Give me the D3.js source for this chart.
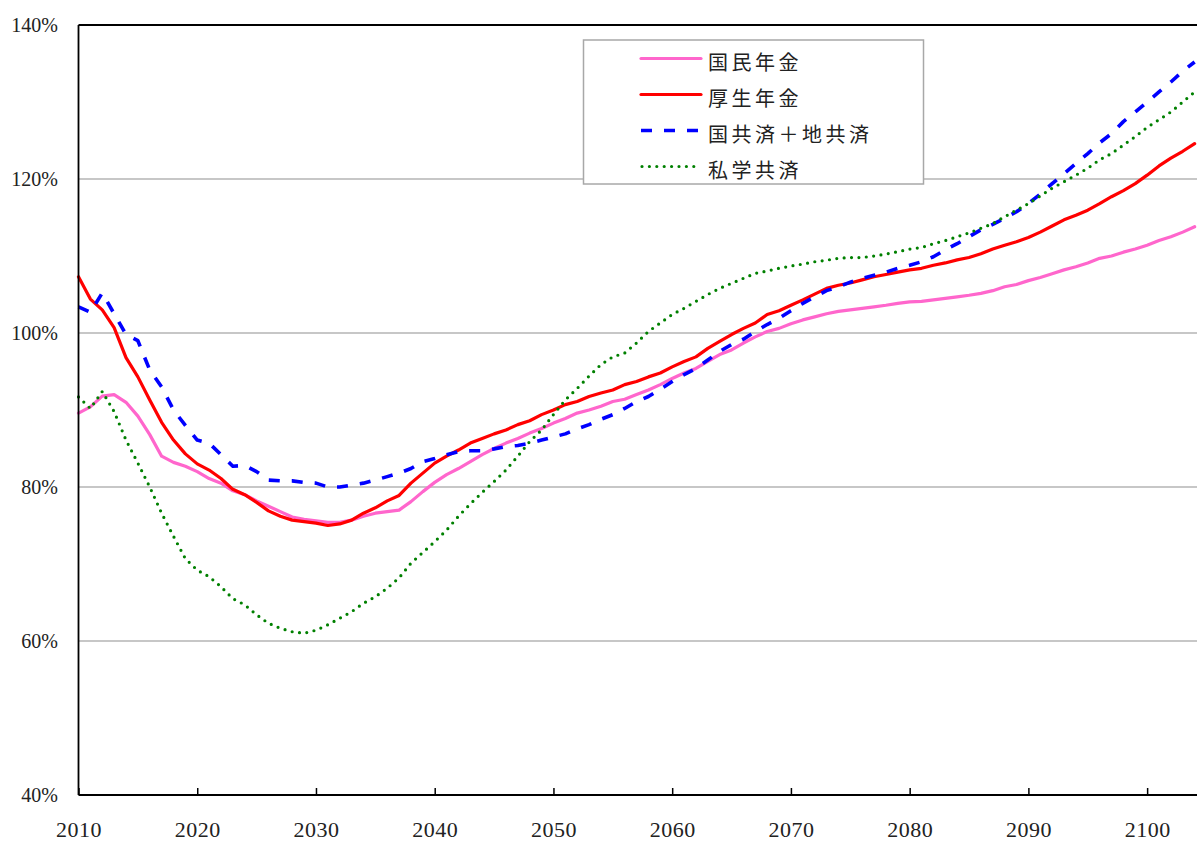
<!DOCTYPE html>
<html>
<head>
<meta charset="utf-8">
<script src="https://cdn.jsdelivr.net/npm/d3@7"></script>
<style>
  html, body { margin: 0; padding: 0; background: #fff; }
  svg { display: block; }
</style>
</head>
<body>
<div class="chart"></div>
<script>
// years on the x axis
const years = d3.range(2010, 2105);

// 国民年金
const kokumin = [
  89.6, 90.4, 91.8, 92.0, 91.0, 89.2, 86.8, 84.0, 83.2, 82.7,
  82.0, 81.1, 80.5, 79.5, 79.0, 78.2, 77.5, 76.8, 76.1, 75.8,
  75.6, 75.4, 75.4, 75.7, 76.2, 76.6, 76.8, 77.0, 78.1, 79.4,
  80.6, 81.6, 82.4, 83.3, 84.2, 85.0, 85.7, 86.3, 87.0, 87.6,
  88.3, 88.9, 89.6, 90.0, 90.5, 91.1, 91.4, 92.0, 92.6, 93.3,
  94.1, 94.8, 95.4, 96.3, 97.2, 97.8, 98.7, 99.5, 100.2, 100.6,
  101.2, 101.7, 102.1, 102.5, 102.8, 103.0, 103.2, 103.4, 103.6, 103.85,
  104.05, 104.1, 104.3, 104.5, 104.7, 104.9, 105.15, 105.5, 106.0, 106.3,
  106.8, 107.2, 107.7, 108.2, 108.6, 109.1, 109.7, 110.0, 110.5, 110.9,
  111.4, 112.0, 112.5, 113.1, 113.8
];

// 厚生年金
const kosei = [
  107.3, 104.4, 103.0, 100.7, 96.8, 94.3, 91.3, 88.4, 86.1, 84.3,
  83.0, 82.2, 81.1, 79.7, 79.0, 78.0, 76.9, 76.2, 75.7, 75.5,
  75.3, 75.0, 75.2, 75.7, 76.6, 77.3, 78.2, 78.9, 80.5, 81.8,
  83.1, 84.0, 84.8, 85.7, 86.3, 86.9, 87.4, 88.1, 88.6, 89.4,
  90.0, 90.7, 91.1, 91.75, 92.2, 92.6, 93.3, 93.7, 94.3, 94.8,
  95.6, 96.3, 96.9, 98.0, 98.9, 99.8, 100.6, 101.3, 102.4, 102.9,
  103.6, 104.3, 105.05, 105.8, 106.2, 106.5, 106.9, 107.3, 107.6, 107.9,
  108.2, 108.4, 108.8, 109.1, 109.5, 109.8, 110.3, 110.9, 111.4, 111.85,
  112.4, 113.1, 113.9, 114.7, 115.3, 115.95, 116.8, 117.7, 118.5, 119.4,
  120.5, 121.7, 122.7, 123.6, 124.6
];

// 国共済＋地共済
const kyosai = [
  103.4, 102.7, 105.2, 102.5, 99.8, 99.0, 95.2, 93.0, 90.0, 88.0,
  86.1, 85.7, 84.2, 82.7, 82.8, 82.0, 80.9, 80.8, 80.8, 80.6,
  80.5, 80.0, 80.0, 80.25, 80.5, 80.9, 81.35, 81.8, 82.4, 83.3,
  83.7, 84.2, 84.6, 84.7, 84.7, 84.95, 85.25, 85.4, 85.7, 86.1,
  86.5, 86.9, 87.55, 88.1, 88.8, 89.4, 90.2, 91.1, 91.75, 92.7,
  93.7, 94.6, 95.4, 96.5, 97.6, 98.5, 99.2, 100.2, 101.1, 101.9,
  102.9, 103.85, 104.7, 105.5, 106.0, 106.6, 107.1, 107.5, 107.9, 108.4,
  108.8, 109.25, 109.9, 110.8, 111.6, 112.5, 113.4, 114.1, 114.9, 115.75,
  116.8, 118.05, 119.4, 120.7, 122.0, 123.3, 124.7, 125.9, 127.45, 128.7,
  130.0, 131.3, 132.6, 134.0, 135.2
];

// 私学共済
const shigaku = [
  91.7, 90.2, 92.4, 89.8, 86.1, 83.1, 80.0, 76.6, 73.6, 70.7,
  69.2, 68.35, 67.05, 65.5, 64.7, 63.4, 62.3, 61.65, 61.2, 61.0,
  61.4, 62.1, 62.95, 63.8, 64.9, 65.75, 66.85, 68.2, 70.1, 71.5,
  72.9, 74.4, 76.2, 77.8, 79.3, 80.7, 82.2, 84.0, 85.9, 87.4,
  89.4, 91.3, 92.8, 94.4, 95.9, 96.9, 97.4, 98.7, 100.2, 101.3,
  102.4, 103.2, 104.1, 105.0, 105.8, 106.45, 107.1, 107.75, 108.05, 108.4,
  108.7, 108.95, 109.25, 109.45, 109.7, 109.8, 109.8, 110.0, 110.25, 110.55,
  110.9, 111.1, 111.6, 112.0, 112.5, 113.0, 113.6, 114.2, 115.1, 115.95,
  116.8, 117.8, 118.8, 119.65, 120.5, 121.4, 122.5, 123.3, 124.4, 125.5,
  126.7, 127.7, 128.7, 130.0, 131.3
];

const seriesNames = ["国民年金", "厚生年金", "国共済＋地共済", "私学共済"];
const xTicks = [2010, 2020, 2030, 2040, 2050, 2060, 2070, 2080, 2090, 2100];
const yTicks = [40, 60, 80, 100, 120, 140];

// line styles, same order as seriesNames
const styles = [
  { color: "#ff66cc", width: 3.2, dash: null, cap: "round" },
  { color: "#ff0000", width: 3.2, dash: null, cap: "round" },
  { color: "#0000ff", width: 3.6, dash: "11,12", cap: "butt" },
  { color: "#008000", width: 3.2, dash: "0,7.4", cap: "round" }
];

const width = 1197, height = 841;
const plotLeft = 78.5, plotRight = 1197, plotTop = 25, plotBottom = 795;

const x = d3.scaleLinear().domain([2010, 2104.2]).range([plotLeft, plotRight]);
const y = d3.scaleLinear().domain([40, 140]).range([plotBottom, plotTop]);

const svg = d3.select(".chart").append("svg")
  .attr("width", width)
  .attr("height", height);

// grid lines
svg.append("g")
  .selectAll("line")
  .data(yTicks.filter(d => d > 40 && d < 140))
  .enter().append("line")
  .attr("x1", plotLeft).attr("x2", plotRight)
  .attr("y1", d => y(d)).attr("y2", d => y(d))
  .attr("stroke", "#b4b4b4")
  .attr("stroke-width", 1.4);

// series
const allData = [kokumin, kosei, kyosai, shigaku];
const line = d3.line()
  .x((d, i) => x(years[i]))
  .y(d => y(d));

svg.append("g")
  .selectAll("path")
  .data(allData)
  .enter().append("path")
  .attr("d", d => line(d))
  .attr("fill", "none")
  .attr("stroke", (d, i) => styles[i].color)
  .attr("stroke-width", (d, i) => styles[i].width)
  .attr("stroke-dasharray", (d, i) => styles[i].dash)
  .attr("stroke-linecap", (d, i) => styles[i].cap)
  .attr("stroke-linejoin", "round");

// frame: top and left
const frame = svg.append("g").attr("stroke", "#000").attr("stroke-width", 1.8);
frame.append("line").attr("x1", plotLeft).attr("x2", plotRight).attr("y1", plotTop).attr("y2", plotTop);
frame.append("line").attr("x1", plotLeft).attr("x2", plotLeft).attr("y1", plotTop).attr("y2", plotBottom);

// x axis with inside ticks
const xAxis = svg.append("g")
  .attr("transform", "translate(0," + plotBottom + ")")
  .call(d3.axisBottom(x).tickValues(xTicks).tickSize(-7).tickPadding(26).tickFormat(d3.format("d")));
xAxis.select(".domain")
  .attr("d", "M" + plotLeft + ",0H" + plotRight)
  .attr("stroke", "#000")
  .attr("stroke-width", 1.8);
xAxis.selectAll(".tick line").attr("stroke", "#000").attr("stroke-width", 1.5);
xAxis.selectAll(".tick text")
  .attr("fill", "#222")
  .style("font-family", "'Liberation Serif', 'DejaVu Serif', serif")
  .style("font-size", "22px")
  .style("letter-spacing", "0.5px");

// y labels
svg.append("g")
  .selectAll("text")
  .data(yTicks)
  .enter().append("text")
  .attr("x", 58)
  .attr("y", d => y(d))
  .attr("dy", "0.35em")
  .attr("text-anchor", "end")
  .attr("fill", "#222")
  .style("font-family", "'Liberation Serif', 'DejaVu Serif', serif")
  .style("font-size", "20px")
  .text(d => d + "%");

// legend
const legend = svg.append("g");
legend.append("rect")
  .attr("x", 583.5).attr("y", 40)
  .attr("width", 340).attr("height", 144)
  .attr("fill", "#fff")
  .attr("stroke", "#a8a8a8")
  .attr("stroke-width", 1.5);

const rows = legend.selectAll(".legend")
  .data(seriesNames)
  .enter().append("g")
  .attr("class", "legend")
  .attr("transform", (d, i) => "translate(0," + (58.5 + i * 36) + ")");

rows.append("line")
  .attr("x1", (d, i) => i === 3 ? 642 : 641)
  .attr("x2", 701)
  .attr("y1", 0).attr("y2", 0)
  .attr("stroke", (d, i) => styles[i].color)
  .attr("stroke-width", (d, i) => styles[i].width)
  .attr("stroke-dasharray", (d, i) => styles[i].dash)
  .attr("stroke-linecap", (d, i) => styles[i].cap);

rows.append("text")
  .attr("x", 708)
  .attr("y", 3)
  .attr("dominant-baseline", "central")
  .attr("fill", "#222")
  .style("font-family", "'Noto Sans CJK JP', sans-serif")
  .style("font-size", "20px")
  .style("letter-spacing", "3.5px")
  .text(d => d);
</script>
</body>
</html>
